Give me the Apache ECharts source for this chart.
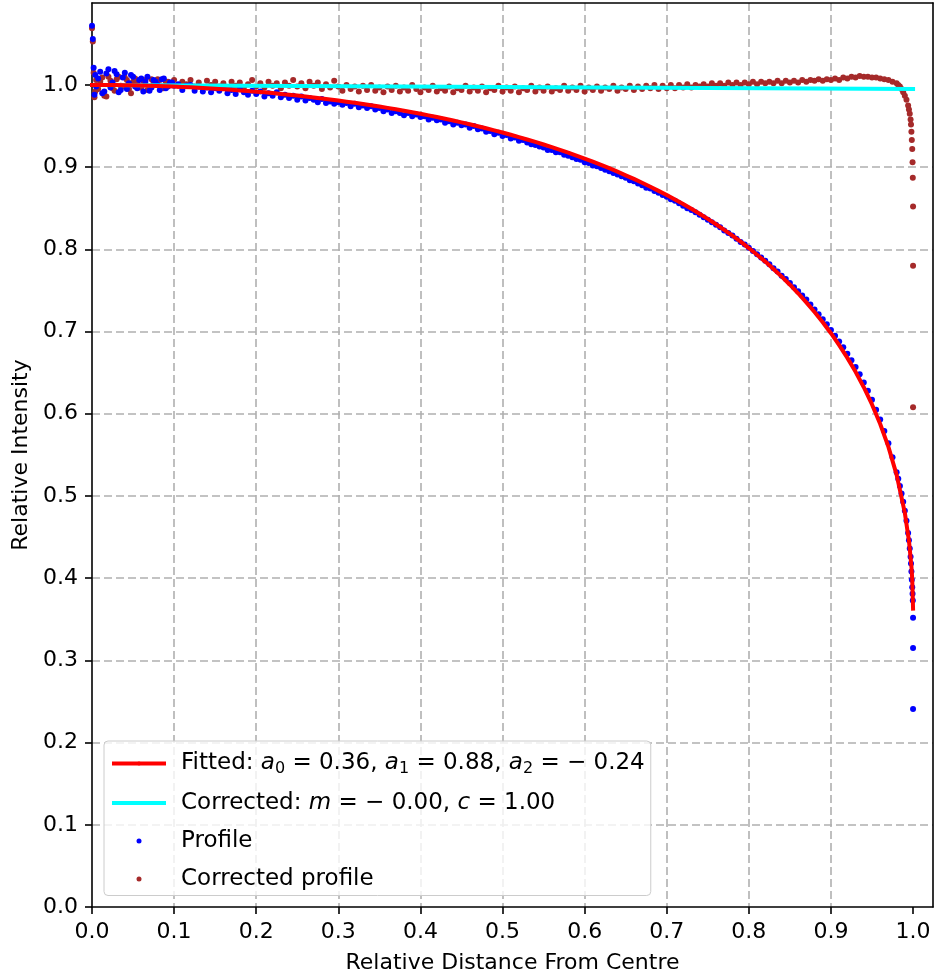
<!DOCTYPE html>
<html>
<head>
<meta charset="utf-8">
<script src="https://cdn.jsdelivr.net/npm/echarts@6/dist/echarts.min.js"></script>
<style>html,body{margin:0;padding:0;background:#fff}#chart{width:936px;height:977px}</style>
</head>
<body>
<div id="chart"></div>
<script>
// ---- data ----
const distance = [
  0, 0.001, 0.002, 0.003, 0.004,
  0.005, 0.010, 0.015, 0.020, 0.025, 0.030, 0.035, 0.040, 0.045, 0.050,
  0.055, 0.060, 0.065, 0.070, 0.075, 0.080, 0.085, 0.090, 0.095, 0.100,
  0.105, 0.110, 0.115, 0.120, 0.125, 0.130, 0.135, 0.140, 0.145, 0.150,
  0.155, 0.160, 0.165, 0.170, 0.175, 0.180, 0.185, 0.190, 0.195, 0.200,
  0.205, 0.210, 0.215, 0.220, 0.225, 0.230, 0.235, 0.240, 0.245, 0.250,
  0.255, 0.260, 0.265, 0.270, 0.275, 0.280, 0.285, 0.290, 0.295, 0.300,
  0.305, 0.310, 0.315, 0.320, 0.325, 0.330, 0.335, 0.340, 0.345, 0.350,
  0.355, 0.360, 0.365, 0.370, 0.375, 0.380, 0.385, 0.390, 0.395, 0.400,
  0.405, 0.410, 0.415, 0.420, 0.425, 0.430, 0.435, 0.440, 0.445, 0.450,
  0.455, 0.460, 0.465, 0.470, 0.475, 0.480, 0.485, 0.490, 0.495, 0.500,
  0.505, 0.510, 0.515, 0.520, 0.525, 0.530, 0.535, 0.540, 0.545, 0.550,
  0.555, 0.560, 0.565, 0.570, 0.575, 0.580, 0.585, 0.590, 0.595, 0.600,
  0.605, 0.610, 0.615, 0.620, 0.625, 0.630, 0.635, 0.640, 0.645, 0.650,
  0.655, 0.660, 0.665, 0.670, 0.675, 0.680, 0.685, 0.690, 0.695, 0.700,
  0.705, 0.710, 0.715, 0.720, 0.725, 0.730, 0.735, 0.740, 0.745, 0.750,
  0.755, 0.760, 0.765, 0.770, 0.775, 0.780, 0.785, 0.790, 0.795, 0.800,
  0.805, 0.810, 0.815, 0.820, 0.825, 0.830, 0.835, 0.840, 0.845, 0.850,
  0.855, 0.860, 0.865, 0.870, 0.875, 0.880, 0.885, 0.890, 0.895, 0.900,
  0.905, 0.910, 0.915, 0.920, 0.925, 0.930, 0.935, 0.940, 0.945, 0.950,
  0.955, 0.960, 0.965, 0.970, 0.975, 0.980,
  0.982, 0.984, 0.986, 0.988, 0.990, 0.992, 0.994, 0.995, 0.996, 0.997,
  0.9975, 0.998, 0.9985, 0.999, 0.9994, 0.9997, 1.0, 1.0, 1.0,
  // extra samples in the noisy centre region
  0.0075, 0.0125, 0.0175, 0.0225, 0.0275, 0.0325, 0.0375, 0.0425, 0.0475, 0.0525,
  0.0575, 0.0625, 0.0675, 0.0725, 0.0775, 0.0825, 0.0875, 0.0925, 0.0975
];

const profile = [
  1.072, 1.056, 1.021, 0.988, 1.012,
  0.998, 1.016, 0.992, 1.019, 1.003, 1.013, 0.994, 1.015, 1.002, 1.010,
  0.996, 1.008, 1.004, 0.993, 1.006, 1.000, 1.007, 0.996, 1.003, 0.999,
  1.001, 0.994, 0.999, 1.000, 0.993, 0.998, 0.992, 0.997, 0.991, 0.996,
  0.993, 0.997, 0.990, 0.994, 0.989, 0.995, 0.991, 0.988, 0.993, 0.989,
  0.992, 0.986, 0.990, 0.987, 0.991, 0.985, 0.988, 0.984, 0.987, 0.982,
  0.986, 0.981, 0.984, 0.982, 0.979, 0.983, 0.978, 0.980, 0.977, 0.979,
  0.976, 0.978, 0.974, 0.977, 0.973, 0.975, 0.972, 0.974, 0.970, 0.972,
  0.968, 0.970, 0.966, 0.968, 0.966, 0.963, 0.966, 0.962, 0.964, 0.961,
  0.962, 0.958, 0.960, 0.957, 0.958, 0.954, 0.956, 0.952, 0.954, 0.951,
  0.952, 0.948, 0.950, 0.946, 0.947, 0.943, 0.944, 0.940, 0.942, 0.938,
  0.939, 0.935, 0.936, 0.932, 0.933, 0.930, 0.928, 0.927, 0.925, 0.924,
  0.921, 0.921, 0.918, 0.918, 0.915, 0.914, 0.912, 0.910, 0.909, 0.906,
  0.905, 0.902, 0.901, 0.899, 0.897, 0.895, 0.893, 0.891, 0.889, 0.887,
  0.884, 0.883, 0.880, 0.878, 0.875, 0.874, 0.871, 0.869, 0.866, 0.864,
  0.861, 0.859, 0.856, 0.853, 0.850, 0.848, 0.845, 0.842, 0.839, 0.836,
  0.833, 0.830, 0.827, 0.823, 0.820, 0.817, 0.813, 0.809, 0.806, 0.802,
  0.798, 0.794, 0.790, 0.786, 0.782, 0.777, 0.773, 0.768, 0.764, 0.759,
  0.754, 0.749, 0.744, 0.739, 0.733, 0.727, 0.721, 0.715, 0.709, 0.702,
  0.695, 0.688, 0.681, 0.673, 0.665, 0.657, 0.648, 0.638, 0.628, 0.617,
  0.605, 0.593, 0.579, 0.564, 0.547, 0.529,
  0.521, 0.512, 0.503, 0.493, 0.482, 0.470, 0.455, 0.446, 0.436, 0.426,
  0.418, 0.408, 0.398, 0.389, 0.381, 0.373, 0.352, 0.315, 0.241,
  1.008, 0.990, 1.014, 0.997, 1.017, 0.991, 1.009, 0.995, 1.012, 0.998,
  1.006, 0.992, 1.010, 0.997, 1.004, 0.994, 1.008, 0.998, 1.003
];

const correctedProfile = [
  1.069, 1.053, 1.015, 0.985, 0.992,
  1.006, 1.004, 0.987, 1.010, 0.996, 1.007, 0.999, 1.009, 0.995, 1.004,
  1.002, 0.997, 1.006, 0.995, 1.003, 1.007, 0.998, 1.004, 1.000, 1.006,
  0.999, 1.004, 1.001, 1.006, 0.998, 1.003, 0.997, 1.005, 1.000, 1.004,
  0.998, 1.002, 0.996, 1.004, 0.999, 1.003, 0.997, 1.001, 1.006, 0.998,
  1.002, 0.997, 1.004, 0.999, 1.002, 0.996, 1.003, 0.999, 1.006, 0.998,
  1.002, 0.996, 1.004, 0.999, 1.003, 0.995, 1.001, 0.997, 1.005, 0.998,
  0.993, 1.000, 0.995, 0.998, 0.992, 0.999, 0.994, 1.000, 0.993, 0.997,
  0.991, 0.998, 0.994, 0.999, 0.992, 0.997, 0.993, 1.000, 0.995, 0.991,
  0.997, 0.994, 0.999, 0.992, 0.996, 0.993, 0.998, 0.991, 0.996, 0.994,
  0.999, 0.992, 0.997, 0.993, 0.998, 0.991, 0.996, 0.994, 0.999, 0.992,
  0.997, 0.993, 0.998, 0.991, 0.996, 0.994, 0.999, 0.992, 0.997, 0.993,
  0.998, 0.992, 0.996, 0.994, 0.999, 0.993, 0.997, 0.994, 0.999, 0.992,
  0.997, 0.994, 0.998, 0.993, 0.997, 0.995, 0.999, 0.993, 0.997, 0.995,
  0.999, 0.994, 0.998, 0.995, 0.999, 0.996, 1.000, 0.995, 0.999, 0.996,
  1.000, 0.996, 1.000, 0.997, 1.001, 0.997, 1.000, 0.998, 1.001, 0.998,
  1.002, 0.999, 1.002, 0.999, 1.003, 1.000, 1.003, 1.000, 1.003, 1.001,
  1.004, 1.001, 1.004, 1.002, 1.004, 1.002, 1.005, 1.002, 1.005, 1.003,
  1.005, 1.003, 1.006, 1.004, 1.006, 1.005, 1.007, 1.005, 1.007, 1.006,
  1.008, 1.006, 1.009, 1.008, 1.010, 1.009, 1.011, 1.010, 1.010, 1.009,
  1.009, 1.008, 1.007, 1.006, 1.004, 1.002,
  1.000, 0.998, 0.995, 0.991, 0.987, 0.982, 0.975, 0.970, 0.965, 0.958,
  0.952, 0.943, 0.933, 0.922, 0.906, 0.887, 0.852, 0.780, 0.608,
  0.995, 1.009, 0.986, 1.005, 0.993, 1.010, 0.998, 1.006, 0.990, 1.008,
  0.997, 1.005, 0.994, 1.007, 1.000, 1.006, 0.996, 1.004, 1.001
];

const fitDistance = [
  0.00, 0.01, 0.02, 0.03, 0.04, 0.05, 0.06, 0.07, 0.08, 0.09,
  0.10, 0.11, 0.12, 0.13, 0.14, 0.15, 0.16, 0.17, 0.18, 0.19,
  0.20, 0.21, 0.22, 0.23, 0.24, 0.25, 0.26, 0.27, 0.28, 0.29,
  0.30, 0.31, 0.32, 0.33, 0.34, 0.35, 0.36, 0.37, 0.38, 0.39,
  0.40, 0.41, 0.42, 0.43, 0.44, 0.45, 0.46, 0.47, 0.48, 0.49,
  0.50, 0.51, 0.52, 0.53, 0.54, 0.55, 0.56, 0.57, 0.58, 0.59,
  0.60, 0.61, 0.62, 0.63, 0.64, 0.65, 0.66, 0.67, 0.68, 0.69,
  0.70, 0.71, 0.72, 0.73, 0.74, 0.75, 0.76, 0.77, 0.78, 0.79,
  0.80, 0.81, 0.82, 0.83, 0.84, 0.85, 0.86, 0.87, 0.88, 0.89,
  0.90, 0.91, 0.92, 0.93, 0.94, 0.95, 0.96, 0.97, 0.98, 0.99,
  0.995, 0.998, 0.999, 1.0
];
const fitted = [
  1.0000, 1.0000, 0.9999, 0.9998, 0.9997, 0.9995, 0.9993, 0.9990, 0.9987, 0.9984,
  0.9980, 0.9976, 0.9971, 0.9966, 0.9960, 0.9954, 0.9948, 0.9941, 0.9934, 0.9926,
  0.9918, 0.9910, 0.9901, 0.9891, 0.9881, 0.9871, 0.9860, 0.9848, 0.9836, 0.9824,
  0.9811, 0.9797, 0.9783, 0.9768, 0.9753, 0.9737, 0.9721, 0.9704, 0.9686, 0.9668,
  0.9649, 0.9630, 0.9610, 0.9589, 0.9567, 0.9545, 0.9522, 0.9498, 0.9473, 0.9447,
  0.9421, 0.9394, 0.9366, 0.9337, 0.9307, 0.9276, 0.9243, 0.9210, 0.9176, 0.9141,
  0.9104, 0.9066, 0.9027, 0.8987, 0.8945, 0.8901, 0.8857, 0.8810, 0.8762, 0.8712,
  0.8661, 0.8607, 0.8551, 0.8493, 0.8433, 0.8371, 0.8306, 0.8238, 0.8167, 0.8093,
  0.8016, 0.7935, 0.7851, 0.7762, 0.7668, 0.7570, 0.7466, 0.7355, 0.7238, 0.7114,
  0.6980, 0.6836, 0.6680, 0.6510, 0.6323, 0.6114, 0.5876, 0.5598, 0.5256, 0.4794,
  0.4455, 0.4147, 0.3989, 0.3630
];

const correctedLineDistance = [0.0, 1.0];
const correctedLine = [1.0, 0.995];

const xTicks = [0.0, 0.1, 0.2, 0.3, 0.4, 0.5, 0.6, 0.7, 0.8, 0.9, 1.0];
const yTicks = [0.0, 0.1, 0.2, 0.3, 0.4, 0.5, 0.6, 0.7, 0.8, 0.9, 1.0];

const seriesNames = ['Fitted', 'Corrected', 'Profile', 'Corrected profile'];
const legendLabels = {
  'Fitted': '{n|Fitted: }{i|a}{s|0}{n| = 0.36, }{i|a}{s|1}{n| = 0.88, }{i|a}{s|2}{n| = \u2212 0.24}',
  'Corrected': '{n|Corrected: }{i|m}{n| = \u2212 0.00, }{i|c}{n| = 1.00}',
  'Profile': '{n|Profile}',
  'Corrected profile': '{n|Corrected profile}'
};

// ---- chart ----
const FONT = 'DejaVu Sans';
const X_MAX = 1.0243;
const Y_MAX = 1.0997;
const pairs = (xs, ys) => xs.map((x, i) => [x, ys[i]]);

const chart = echarts.init(document.getElementById('chart'), null, { renderer: 'canvas' });

const mainAxisCommon = (ticks) => ({
  type: 'value',
  min: 0,
  interval: 0.1,
  axisLine: { show: true, onZero: false, lineStyle: { color: '#000', width: 1.6 } },
  axisTick: { show: true, inside: false, length: 7, customValues: ticks, lineStyle: { color: '#000', width: 1.6 } },
  axisLabel: {
    show: true, customValues: ticks, margin: 14,
    formatter: (v) => Number(v).toFixed(1),
    color: '#000', fontSize: 22, fontFamily: FONT
  },
  splitLine: { show: true, showMinLine: false, showMaxLine: false, lineStyle: { color: '#b0b0b0', width: 1.6, type: [8, 4] } },
  nameLocation: 'middle',
  nameTextStyle: { color: '#000', fontSize: 22, fontFamily: FONT }
});

const frameAxis = (pos, max) => ({
  type: 'value', min: 0, max: max, position: pos, z: 10,
  axisLine: { show: true, onZero: false, lineStyle: { color: '#000', width: 1.6 } },
  axisTick: { show: false }, axisLabel: { show: false }, splitLine: { show: false }
});

const option = {
  animation: false,
  backgroundColor: '#ffffff',
  grid: { left: 92, right: 3, top: 3, bottom: 70, outerBoundsMode: 'none', containLabel: false },
  xAxis: [
    Object.assign(mainAxisCommon(xTicks), { max: X_MAX, position: 'bottom', name: 'Relative Distance From Centre', nameGap: 45 }),
    frameAxis('top', X_MAX)
  ],
  yAxis: [
    Object.assign(mainAxisCommon(yTicks), { max: Y_MAX, position: 'left', name: 'Relative Intensity', nameGap: 60 }),
    frameAxis('right', Y_MAX)
  ],
  legend: {
    orient: 'vertical', left: 104, top: 741,
    itemWidth: 50, itemHeight: 5, itemGap: 15,
    padding: [11, 6, 5, 8],
    backgroundColor: 'rgba(255,255,255,0.8)',
    borderColor: '#cccccc', borderWidth: 1, borderRadius: 4,
    selectedMode: false,
    data: seriesNames,
    lineStyle: { width: 4 },
    formatter: (name) => legendLabels[name],
    textStyle: {
      color: '#000', fontSize: 23, fontFamily: FONT, padding: [0, 0, 0, 12],
      rich: {
        n: { fontSize: 23, fontFamily: FONT, color: '#000', lineHeight: 26 },
        i: { fontSize: 23, fontFamily: FONT, fontStyle: 'italic', color: '#000', lineHeight: 26 },
        s: { fontSize: 16, fontFamily: FONT, color: '#000', lineHeight: 16, verticalAlign: 'bottom' }
      }
    }
  },
  series: [
    {
      name: 'Corrected profile', type: 'scatter', xAxisIndex: 0, yAxisIndex: 0,
      data: pairs(distance, correctedProfile), symbol: 'circle', symbolSize: 6,
      itemStyle: { color: '#a52a2a', opacity: 1 }, z: 2, silent: true, emphasis: { disabled: true }
    },
    {
      name: 'Profile', type: 'scatter', xAxisIndex: 0, yAxisIndex: 0,
      data: pairs(distance, profile), symbol: 'circle', symbolSize: 6,
      itemStyle: { color: '#0000ff', opacity: 1 }, z: 3, silent: true, emphasis: { disabled: true }
    },
    {
      name: 'Corrected', type: 'line', xAxisIndex: 0, yAxisIndex: 0,
      data: pairs(correctedLineDistance, correctedLine), symbol: 'none', showSymbol: false,
      lineStyle: { color: '#00ffff', width: 4, cap: 'square' }, itemStyle: { color: '#00ffff' },
      z: 4, silent: true, emphasis: { disabled: true }
    },
    {
      name: 'Fitted', type: 'line', xAxisIndex: 0, yAxisIndex: 0,
      data: pairs(fitDistance, fitted), symbol: 'none', showSymbol: false,
      lineStyle: { color: '#ff0000', width: 4, cap: 'square', join: 'round' }, itemStyle: { color: '#ff0000' },
      z: 5, silent: true, emphasis: { disabled: true }
    }
  ]
};

chart.setOption(option);
</script>
</body>
</html>
